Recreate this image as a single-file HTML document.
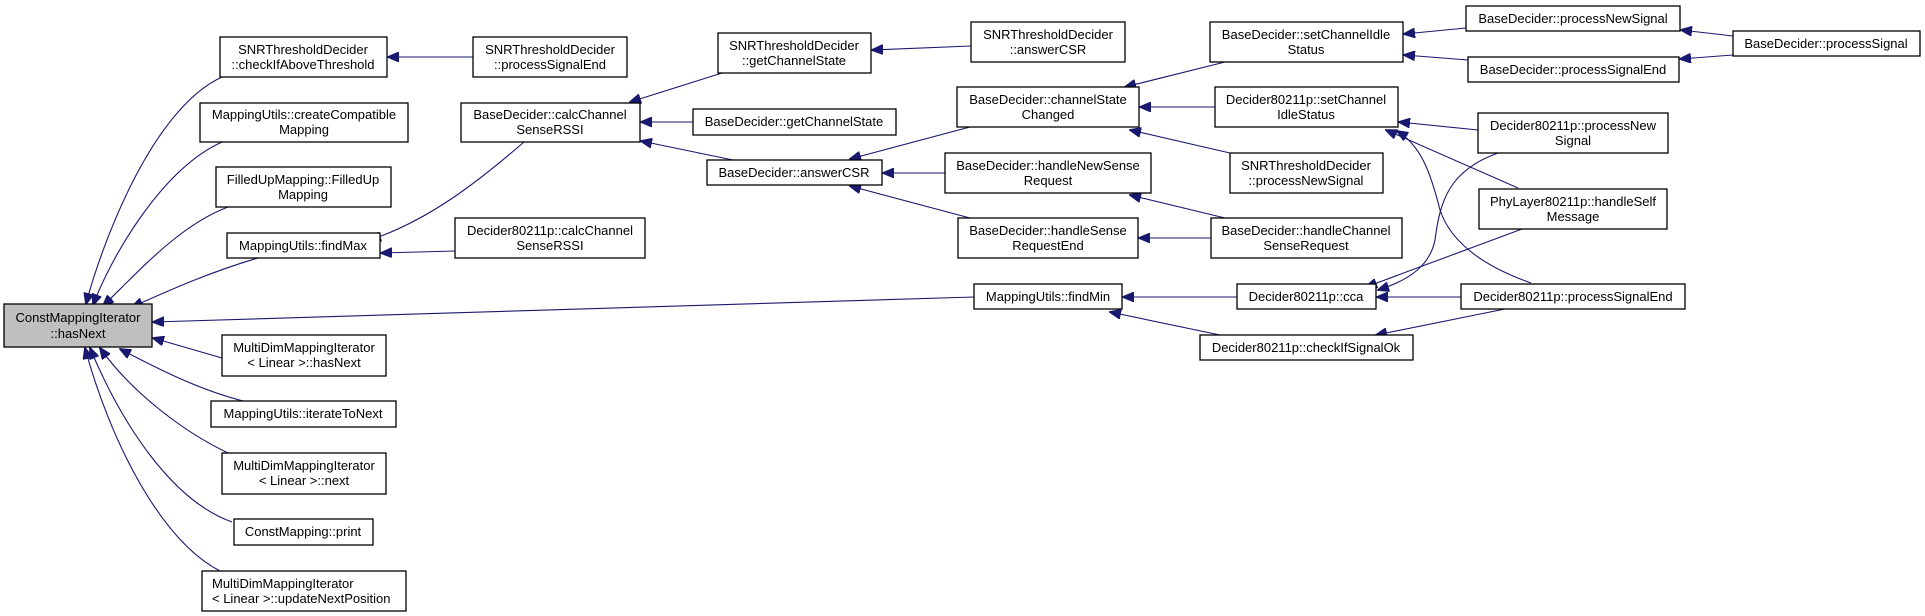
<!DOCTYPE html>
<html><head><meta charset="utf-8"><style>
html,body{margin:0;padding:0;background:#fff;}
svg{display:block;}
text{font-family:"Liberation Sans",Arial,sans-serif;font-size:13px;fill:#000;}
rect{fill:#fff;stroke:#000;stroke-width:1.3;}
path{fill:none;stroke:#191970;stroke-width:1.1;}
</style></head><body>
<svg width="1925" height="616" viewBox="0 0 1925 616" xmlns="http://www.w3.org/2000/svg">
<defs><marker id="a" markerWidth="12" markerHeight="10" refX="11" refY="5" orient="auto" markerUnits="userSpaceOnUse"><polygon points="0,0 12,5 0,10" fill="#191970" stroke="#191970"/></marker></defs>
<g marker-end="url(#a)">
<path d="M222,77 C150,110 100,250 86,304"/>
<path d="M222,142 C160,170 110,260 93,305"/>
<path d="M228,207 C180,225 140,270 103,306"/>
<path d="M258,258 C210,272 170,290 132,307"/>
<path d="M974,297 L153,322"/>
<path d="M222,358 L153,338"/>
<path d="M243,401 C200,390 160,370 120,349"/>
<path d="M228,453 C180,430 130,390 100,348"/>
<path d="M232,522 C170,500 120,420 90,348"/>
<path d="M220,571 C160,540 110,440 85,348"/>
<path d="M473,57 L388,57"/>
<path d="M524,142 C480,180 430,220 370,240"/>
<path d="M455,251 L381,253"/>
<path d="M722,73 L630,102"/>
<path d="M693,122 L641,122"/>
<path d="M733,160 L641,141"/>
<path d="M971,46 L872,50"/>
<path d="M970,127 L850,159"/>
<path d="M945,173 L883,173"/>
<path d="M970,218 L850,186"/>
<path d="M1225,62 L1125,87"/>
<path d="M1215,107 L1140,107"/>
<path d="M1230,153 L1130,130"/>
<path d="M1225,218 L1130,195"/>
<path d="M1211,238 L1139,238"/>
<path d="M1237,297 L1123,297"/>
<path d="M1220,335 L1110,312"/>
<path d="M1466,28 L1404,34"/>
<path d="M1468,60 L1404,55"/>
<path d="M1733,36 L1681,30"/>
<path d="M1733,55 L1680,59"/>
<path d="M1478,130 L1399,122"/>
<path d="M1518,188 L1386,130"/>
<path d="M1531,283 C1480,265 1450,240 1440,210 C1430,170 1420,145 1397,131"/>
<path d="M1498,153 C1450,170 1440,200 1435,240 C1430,265 1410,280 1378,290"/>
<path d="M1522,229 L1366,287"/>
<path d="M1461,297 L1377,297"/>
<path d="M1505,309 L1376,335"/>
</g>
<rect x="4" y="304" width="148" height="43" style="fill:#bfbfbf"/>
<text x="78" y="322" text-anchor="middle">ConstMappingIterator</text><text x="78" y="338" text-anchor="middle">::hasNext</text>
<rect x="220" y="37" width="167" height="40"/><text x="303" y="54" text-anchor="middle">SNRThresholdDecider</text><text x="303" y="69" text-anchor="middle">::checkIfAboveThreshold</text>
<rect x="200" y="103" width="208" height="39"/><text x="304" y="119" text-anchor="middle">MappingUtils::createCompatible</text><text x="304" y="134" text-anchor="middle">Mapping</text>
<rect x="216" y="167" width="175" height="40"/><text x="303" y="184" text-anchor="middle">FilledUpMapping::FilledUp</text><text x="303" y="199" text-anchor="middle">Mapping</text>
<rect x="227" y="233" width="153" height="25"/><text x="303" y="250" text-anchor="middle">MappingUtils::findMax</text>
<rect x="222" y="335" width="164" height="41"/><text x="304" y="352" text-anchor="middle">MultiDimMappingIterator</text><text x="304" y="367" text-anchor="middle">&lt; Linear &gt;::hasNext</text>
<rect x="211" y="401" width="185" height="26"/><text x="303" y="418" text-anchor="middle">MappingUtils::iterateToNext</text>
<rect x="222" y="453" width="164" height="41"/><text x="304" y="470" text-anchor="middle">MultiDimMappingIterator</text><text x="304" y="485" text-anchor="middle">&lt; Linear &gt;::next</text>
<rect x="234" y="519" width="139" height="26"/><text x="303" y="536" text-anchor="middle">ConstMapping::print</text>
<rect x="202" y="571" width="204" height="40"/><text x="212" y="588">MultiDimMappingIterator</text><text x="212" y="603">&lt; Linear &gt;::updateNextPosition</text>
<rect x="473" y="37" width="154" height="40"/><text x="550" y="54" text-anchor="middle">SNRThresholdDecider</text><text x="550" y="69" text-anchor="middle">::processSignalEnd</text>
<rect x="461" y="103" width="179" height="39"/><text x="550" y="119" text-anchor="middle">BaseDecider::calcChannel</text><text x="550" y="134" text-anchor="middle">SenseRSSI</text>
<rect x="455" y="218" width="190" height="40"/><text x="550" y="235" text-anchor="middle">Decider80211p::calcChannel</text><text x="550" y="250" text-anchor="middle">SenseRSSI</text>
<rect x="718" y="33" width="153" height="40"/><text x="794" y="50" text-anchor="middle">SNRThresholdDecider</text><text x="794" y="65" text-anchor="middle">::getChannelState</text>
<rect x="693" y="109" width="203" height="26"/><text x="794" y="126" text-anchor="middle">BaseDecider::getChannelState</text>
<rect x="707" y="160" width="175" height="25"/><text x="794" y="177" text-anchor="middle">BaseDecider::answerCSR</text>
<rect x="971" y="22" width="154" height="40"/><text x="1048" y="39" text-anchor="middle">SNRThresholdDecider</text><text x="1048" y="54" text-anchor="middle">::answerCSR</text>
<rect x="957" y="87" width="182" height="40"/><text x="1048" y="104" text-anchor="middle">BaseDecider::channelState</text><text x="1048" y="119" text-anchor="middle">Changed</text>
<rect x="945" y="153" width="206" height="40"/><text x="1048" y="170" text-anchor="middle">BaseDecider::handleNewSense</text><text x="1048" y="185" text-anchor="middle">Request</text>
<rect x="958" y="218" width="180" height="40"/><text x="1048" y="235" text-anchor="middle">BaseDecider::handleSense</text><text x="1048" y="250" text-anchor="middle">RequestEnd</text>
<rect x="974" y="284" width="148" height="25"/><text x="1048" y="301" text-anchor="middle">MappingUtils::findMin</text>
<rect x="1210" y="22" width="193" height="40"/><text x="1306" y="39" text-anchor="middle">BaseDecider::setChannelIdle</text><text x="1306" y="54" text-anchor="middle">Status</text>
<rect x="1215" y="87" width="183" height="40"/><text x="1306" y="104" text-anchor="middle">Decider80211p::setChannel</text><text x="1306" y="119" text-anchor="middle">IdleStatus</text>
<rect x="1230" y="153" width="153" height="40"/><text x="1306" y="170" text-anchor="middle">SNRThresholdDecider</text><text x="1306" y="185" text-anchor="middle">::processNewSignal</text>
<rect x="1211" y="218" width="191" height="40"/><text x="1306" y="235" text-anchor="middle">BaseDecider::handleChannel</text><text x="1306" y="250" text-anchor="middle">SenseRequest</text>
<rect x="1237" y="284" width="139" height="25"/><text x="1306" y="301" text-anchor="middle">Decider80211p::cca</text>
<rect x="1200" y="335" width="213" height="25"/><text x="1306" y="352" text-anchor="middle">Decider80211p::checkIfSignalOk</text>
<rect x="1466" y="6" width="214" height="25"/><text x="1573" y="23" text-anchor="middle">BaseDecider::processNewSignal</text>
<rect x="1468" y="57" width="211" height="25"/><text x="1573" y="74" text-anchor="middle">BaseDecider::processSignalEnd</text>
<rect x="1733" y="31" width="187" height="25"/><text x="1826" y="48" text-anchor="middle">BaseDecider::processSignal</text>
<rect x="1478" y="113" width="190" height="40"/><text x="1573" y="130" text-anchor="middle">Decider80211p::processNew</text><text x="1573" y="145" text-anchor="middle">Signal</text>
<rect x="1479" y="189" width="188" height="40"/><text x="1573" y="206" text-anchor="middle">PhyLayer80211p::handleSelf</text><text x="1573" y="221" text-anchor="middle">Message</text>
<rect x="1461" y="284" width="224" height="25"/><text x="1573" y="301" text-anchor="middle">Decider80211p::processSignalEnd</text>
</svg>
</body></html>
